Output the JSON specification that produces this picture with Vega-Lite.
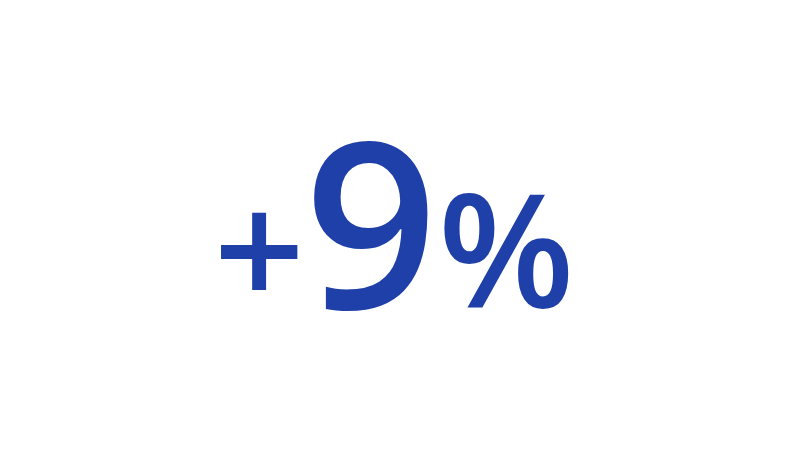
{
  "$schema": "https://vega.github.io/schema/vega-lite/v6.json",
  "width": 800,
  "height": 450,
  "autosize": {"type": "fit", "contains": "padding"},
  "padding": 0,
  "background": "white",
  "config": {"view": {"stroke": null}},
  "data": {"values": [{"metric": "change", "value": 9}]},
  "layer": [
    {
      "mark": {"type": "text", "font": "Open Sans", "fontWeight": 600, "fontSize": 160, "align": "right", "baseline": "alphabetic", "dx": -95, "dy": 83, "color": "#1f40a8"},
      "encoding": {"text": {"value": "+"}}
    },
    {
      "mark": {"type": "text", "font": "Open Sans", "fontWeight": 600, "fontSize": 233, "align": "center", "baseline": "alphabetic", "dx": -29, "dy": 84, "color": "#1f40a8"},
      "encoding": {"text": {"field": "value", "type": "quantitative", "format": "d"}}
    },
    {
      "mark": {"type": "text", "font": "Open Sans", "fontWeight": 600, "fontSize": 158, "align": "left", "baseline": "alphabetic", "dx": 38, "dy": 83, "color": "#1f40a8"},
      "encoding": {"text": {"value": "%"}}
    }
  ]
}
